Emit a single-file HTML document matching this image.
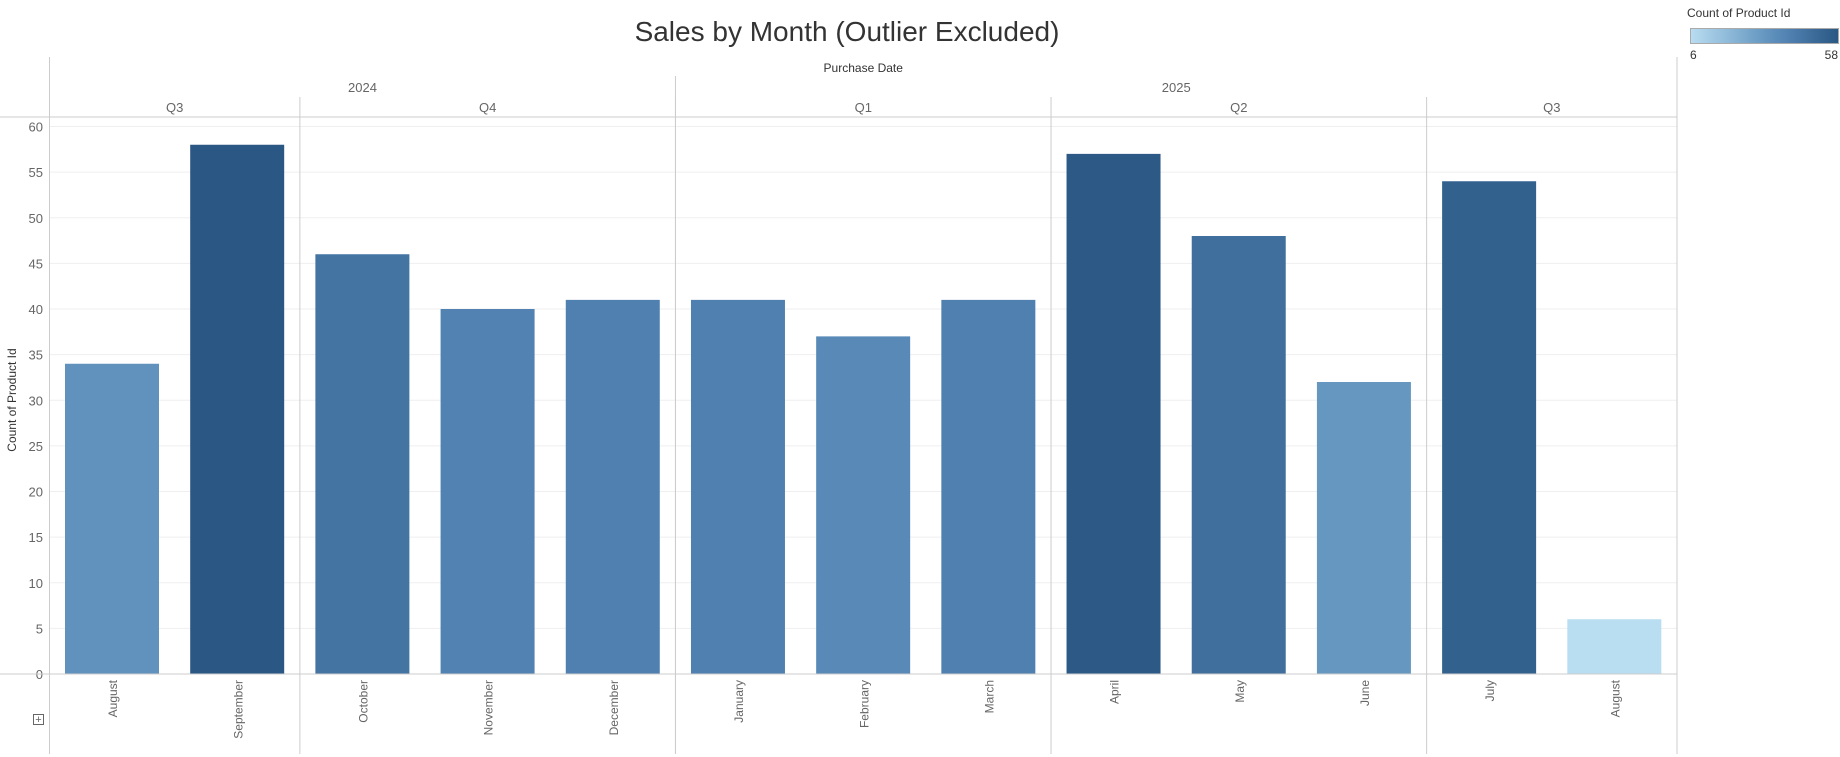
<!DOCTYPE html>
<html><head><meta charset="utf-8"><style>
body{margin:0;width:1840px;height:757px;background:#fff;font-family:"Liberation Sans",sans-serif;overflow:hidden}
svg{display:block}
text{font-family:"Liberation Sans",sans-serif}
</style></head><body>
<svg id="c" width="1840" height="757">
<defs><linearGradient id="lg" x1="0" x2="1"><stop offset="0" stop-color="#b9ddf1"/><stop offset="0.5" stop-color="#6597c1"/><stop offset="0.67" stop-color="#4f80b0"/><stop offset="1" stop-color="#2a5783"/></linearGradient></defs>
<text x="847" y="41" text-anchor="middle" font-size="28" fill="#333">Sales by Month (Outlier Excluded)</text>
<g>
<text x="1687" y="17" font-size="12" fill="#333">Count of Product Id</text>
<rect x="1690.5" y="28.5" width="148" height="15" fill="url(#lg)" stroke="#aaa"/>
<text x="1690" y="59" font-size="12" fill="#333">6</text>
<text x="1838" y="59" font-size="12" fill="#333" text-anchor="end">58</text>
</g>
<g id="g"></g>
</svg>
<script>
const months=["August","September","October","November","December","January","February","March","April","May","June","July","August"];
const values=[34,58,46,40,41,41,37,41,57,48,32,54,6];
const quarters=["Q3","Q4","Q1","Q2","Q3"];
const quarterSpans=[2,3,3,3,2];
const years=["2024","2025"];
const yearSpans=[5,8];
const yTicks=[0,5,10,15,20,25,30,35,40,45,50,55,60];
const x0=49.5,x1=1677,colW=(x1-x0)/months.length,y0=674,pxPerUnit=9.125;
const yS=v=>y0-v*pxPerUnit;
const xS=i=>x0+i*colW;
const vmin=6,vmax=58;
const stops=[[0,[0xb9,0xdd,0xf1]],[0.5,[0x65,0x97,0xc1]],[0.67,[0x4f,0x80,0xb0]],[1,[0x2a,0x57,0x83]]];
function col(v){const t=(v-vmin)/(vmax-vmin);let k=0;while(k<stops.length-2&&t>stops[k+1][0])k++;
const [ta,a]=stops[k],[tb,b]=stops[k+1];const u=Math.max(0,Math.min(1,(t-ta)/(tb-ta)));
return `rgb(${a.map((c,i)=>Math.round(c+(b[i]-c)*u)).join(',')})`;}
const g=document.getElementById('g');const NS='http://www.w3.org/2000/svg';
function mk(tag,at,name,txt){const e=document.createElementNS(NS,tag);for(const k in at)e.setAttribute(k,at[k]);


if(txt!=null)e.textContent=txt;g.appendChild(e);return e;}
yTicks.forEach(t=>{mk('line',{x1:x0,x2:x1,y1:yS(t),y2:yS(t),stroke:t?'#efefef':'#ccc','stroke-width':1},'gridline');
mk('text',{x:43,y:yS(t)+5,'text-anchor':'end','font-size':13,fill:'#666'},'y-tick-label',t);});
mk('text',{x:0,y:0,transform:`translate(16,400) rotate(-90)`,'text-anchor':'middle','font-size':12,fill:'#333'},'y-axis-title','Count of Product Id');
values.forEach((v,i)=>{mk('rect',{x:xS(i)+15.5,y:yS(v),width:94,height:v*pxPerUnit,fill:col(v)},'bar-'+months[i].toLowerCase());
mk('text',{x:0,y:0,transform:`translate(${xS(i)+colW/2+5},${680}) rotate(-90)`,'text-anchor':'end','font-size':12,fill:'#666'},'x-tick-label',months[i]);});
mk('line',{x1:0,x2:x1,y1:117,y2:117,stroke:'#ccc'},'header-line');
mk('line',{x1:0,x2:x1,y1:674,y2:674,stroke:'#ccc'},'x-axis-line');
mk('line',{x1:x0,x2:x0,y1:57,y2:754,stroke:'#ccc'},'left-border');
mk('line',{x1:x1,x2:x1,y1:57,y2:754,stroke:'#ccc'},'right-border');
mk('text',{x:(x0+x1)/2,y:72,'text-anchor':'middle','font-size':12,fill:'#333'},'x-axis-title','Purchase Date');
let c=0;years.forEach((y,i)=>{const a=xS(c),b=xS(c+yearSpans[i]);
mk('text',{x:(a+b)/2,y:92,'text-anchor':'middle','font-size':13,fill:'#666'},'year-header',y);
if(i>0)mk('line',{x1:a,x2:a,y1:76,y2:754,stroke:'#ccc'},'year-divider');c+=yearSpans[i];});
c=0;quarters.forEach((q,i)=>{const a=xS(c),b=xS(c+quarterSpans[i]);
mk('text',{x:(a+b)/2,y:112,'text-anchor':'middle','font-size':13,fill:'#666'},'quarter-header',q);
if(i>0)mk('line',{x1:a,x2:a,y1:97,y2:754,stroke:'#ccc'},'quarter-divider');c+=quarterSpans[i];});
mk('rect',{x:33.5,y:714.5,width:10,height:10,fill:'none',stroke:'#666'},'expand-icon');
mk('text',{x:38.5,y:723,'text-anchor':'middle','font-size':11,fill:'#666'},'expand-icon-plus','+');
</script>
</body></html>
